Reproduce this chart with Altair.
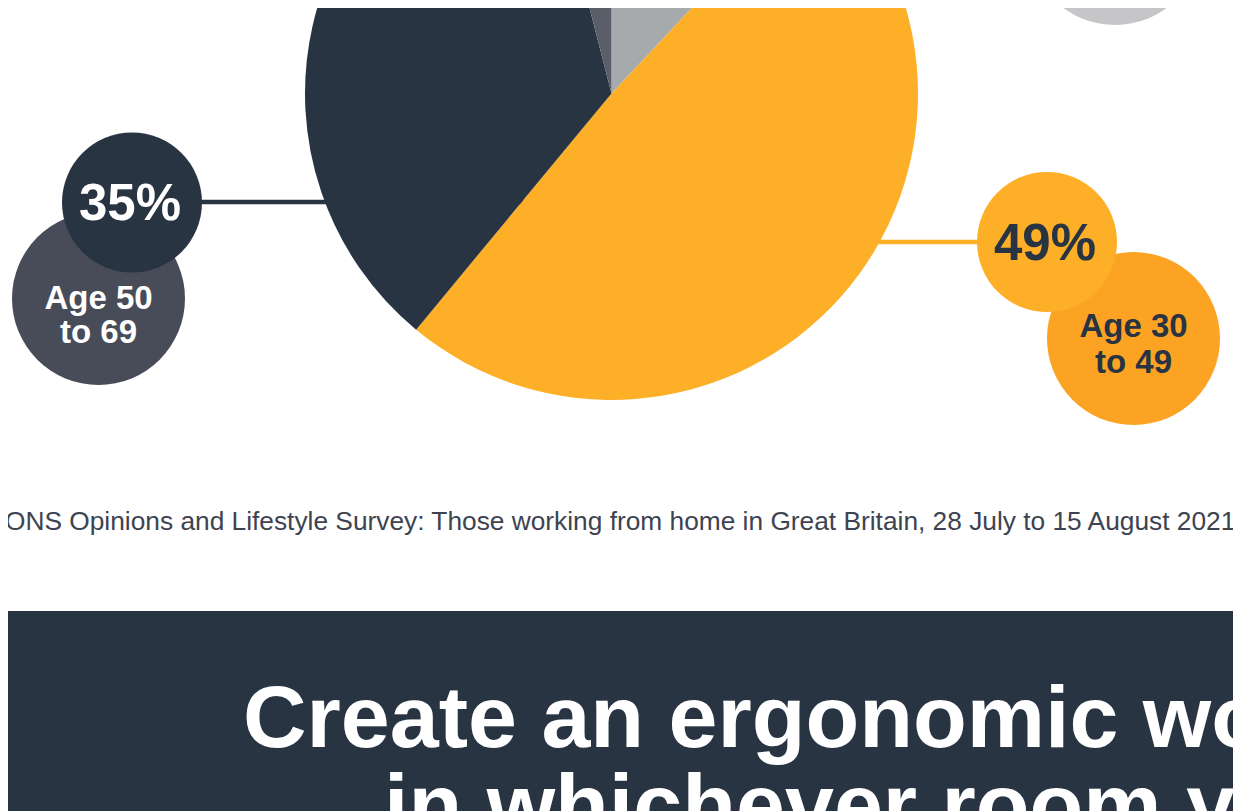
import altair as alt
import pandas as pd

# ---------------- data ----------------
age_groups = ["Age 16 to 29", "Age 30 to 49", "Age 50 to 69", "Age 70 and over"]
age_labels = ["Age 16\nto 29", "Age 30\nto 49", "Age 50\nto 69", "Age 70\nand over"]
shares = [12, 49, 35, 4]
source_text = ["ONS Opinions and Lifestyle Survey: Those working from home in Great Britain, 28 July to 15 August 2021"]
headline = ["Create an ergonomic workspace", "in whichever room you work"]

# ---------------- styles ----------------
NAVY = "#293443"
slice_colors = ["#a7aaad", "#fdaf28", NAVY, "#5a5e69"]
badge_colors = ["#c6c6c8", "#fca324", "#484c59", "#797c87"]
pct_text_colors = [NAVY, NAVY, "#ffffff", "#ffffff"]
age_text_colors = [NAVY, NAVY, "#ffffff", "#ffffff"]
FONT = "Liberation Sans"

OFF = 8  # page margin: page pixel -> chart pixel
W, H = 1241 - 2 * OFF, 811 - OFF

def px(v):
    return v - OFF

PIE_CX, PIE_CY, PIE_R = 611.5, 93.5, 306.5
R_PCT, R_AGE = 70, 86.5

# page-pixel layout of each badge group
layout = {
    "Age 16 to 29":   dict(pct=(1030, -170), age=(1115, -61.5), pct_base=-152, age_base=-52, lh=35, line=(611, 1030, -170)),
    "Age 30 to 49":   dict(pct=(1047, 242), age=(1133.5, 338.5), pct_base=260, age_base=337, lh=36, line=(611, 1047, 242)),
    "Age 50 to 69":   dict(pct=(132, 202.5), age=(98.5, 298.5), pct_base=220, age_base=308.5, lh=34, line=(132, 611, 202)),
    "Age 70 and over": dict(pct=(135, -190), age=(101, -83.5), pct_base=-172, age_base=-74, lh=34, line=(135, 611, -190)),
}

df = pd.DataFrame({
    "group": age_groups,
    "label": age_labels,
    "share": shares,
    "order": list(range(len(age_groups))),
})
df["pct"] = df["share"].astype(str) + "%"

base = alt.Chart(df)

connectors, age_circles, pct_circles, texts = [], [], [], []
for i, g in enumerate(age_groups):
    L = layout[g]
    b = base.transform_filter(alt.datum.group == g)
    x1, x2, ly = L["line"]
    connectors.append(
        b.mark_rule(strokeWidth=4.5, color=slice_colors[i]).encode(
            x=alt.value(px(x1)), x2=alt.value(px(x2)), y=alt.value(px(ly))
        )
    )
    # Vega symbol size is the square of the circle's diameter
    age_circles.append(
        b.mark_circle(size=(2 * R_AGE) ** 2, color=badge_colors[i], opacity=1, strokeWidth=0).encode(
            x=alt.value(px(L["age"][0])), y=alt.value(px(L["age"][1]))
        )
    )
    pct_circles.append(
        b.mark_circle(size=(2 * R_PCT) ** 2, color=slice_colors[i], opacity=1, strokeWidth=0).encode(
            x=alt.value(px(L["pct"][0])), y=alt.value(px(L["pct"][1]))
        )
    )
    texts.append(
        b.mark_text(font=FONT, fontSize=51, fontWeight="bold", color=pct_text_colors[i],
                    align="center", baseline="alphabetic").encode(
            x=alt.value(px(L["pct"][0] - 2)), y=alt.value(px(L["pct_base"])), text="pct:N"
        )
    )
    texts.append(
        b.mark_text(font=FONT, fontSize=33, fontWeight="bold", color=age_text_colors[i],
                    align="center", baseline="alphabetic", lineBreak="\n", lineHeight=L["lh"]).encode(
            x=alt.value(px(L["age"][0])), y=alt.value(px(L["age_base"])), text="label:N"
        )
    )

pie = base.mark_arc(radius=PIE_R, strokeWidth=0).encode(
    theta=alt.Theta("share:Q", stack=True),
    order=alt.Order("order:Q"),
    color=alt.Color("group:N", scale=alt.Scale(domain=age_groups, range=slice_colors), legend=None),
    x=alt.value(px(PIE_CX)),
    y=alt.value(px(PIE_CY)),
)

src_df = pd.DataFrame({"t": source_text})
source = alt.Chart(src_df).mark_text(font=FONT, fontSize=26.3, color="#3d4350", align="left",
                                     baseline="alphabetic").encode(
    x=alt.value(px(5)), y=alt.value(px(530)), text="t:N"
)

head_df = pd.DataFrame({"t": headline, "line": [0, 1]})
banner = alt.Chart(head_df).transform_filter(alt.datum.line == 0).mark_rect(color=NAVY).encode(
    x=alt.value(px(0)), x2=alt.value(W), y=alt.value(px(611)), y2=alt.value(H)
)
head1 = alt.Chart(head_df).transform_filter(alt.datum.line == 0).mark_text(
    font=FONT, fontSize=88, fontWeight="bold", color="#ffffff", align="left", baseline="alphabetic"
).encode(x=alt.value(px(243)), y=alt.value(px(747)), text="t:N")
head2 = alt.Chart(head_df).transform_filter(alt.datum.line == 1).mark_text(
    font=FONT, fontSize=88, fontWeight="bold", color="#ffffff", align="left", baseline="alphabetic"
).encode(x=alt.value(px(384)), y=alt.value(px(835)), text="t:N")

chart = alt.layer(
    *connectors, pie, *age_circles, *pct_circles, *texts, source, banner, head1, head2
).properties(
    width=W, height=H, padding=0,
    autosize=alt.AutoSizeParams(type="none"),
    background="#ffffff",
).configure_view(strokeWidth=0)

chart.save("out.html", embed_options={"renderer": "svg", "actions": False})
